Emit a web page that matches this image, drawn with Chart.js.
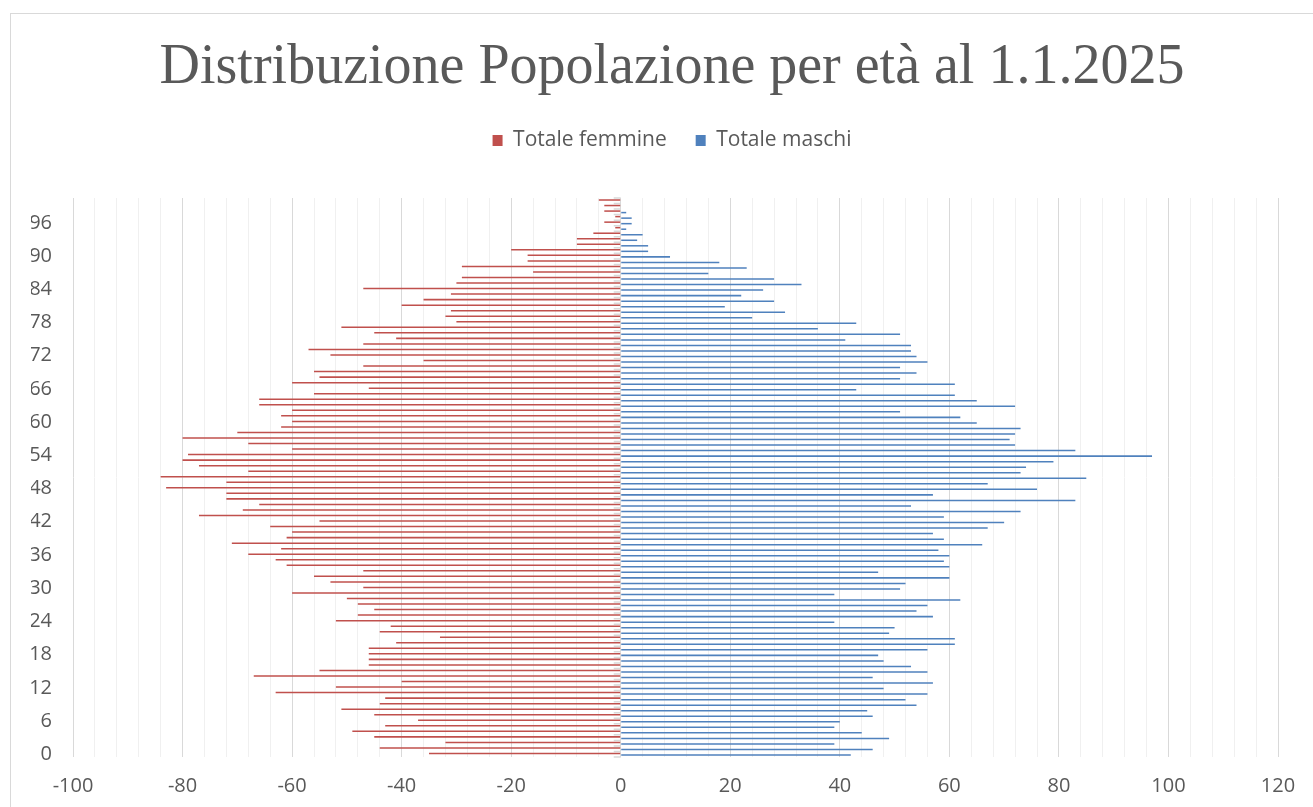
<!DOCTYPE html>
<html lang="it">
<head>
<meta charset="utf-8">
<title>Distribuzione Popolazione per età al 1.1.2025</title>
<script src="https://cdn.jsdelivr.net/npm/chart.js@4.4.1/dist/chart.umd.min.js"></script>
<style>
  html, body { margin: 0; padding: 0; background: #fff; overflow: hidden; }
  #frame {
    position: absolute; left: 10px; top: 13px; width: 1400px; height: 900px;
    border-left: 1px solid #d9d9d9; border-top: 1px solid #d9d9d9;
  }
  #wrap { position: absolute; left: 0; top: 0; width: 1313px; height: 807px; }
</style>
</head>
<body>
<div id="frame"></div>
<div id="wrap"><canvas id="pyramid" width="1313" height="807"></canvas></div>
<script>
// ages 0..100
const ages = Array.from({ length: 101 }, (_, i) => String(i));

// females per age (0 -> 100), drawn on the negative side
const femmine = [
  35, 44, 32, 45, 49, 43, 37, 45, 51, 44,
  43, 63, 52, 40, 67, 55, 46, 46, 46, 46,
  41, 33, 44, 42, 52, 48, 45, 48, 50, 60,
  47, 53, 56, 47, 61, 63, 68, 62, 71, 61,
  60, 64, 55, 77, 69, 66, 72, 72, 83, 72,
  84, 68, 77, 80, 79, 60, 68, 80, 70, 62,
  60, 62, 60, 66, 66, 56, 46, 60, 55, 56,
  47, 36, 53, 57, 47, 41, 45, 51, 30, 32,
  31, 40, 36, 31, 47, 30, 29, 16, 29, 17,
  17, 20, 8, 8, 5, 1, 3, 1, 3, 3,
  4,
];

// males per age (0 -> 100)
const maschi = [
  42, 46, 39, 49, 44, 39, 40, 46, 45, 54,
  52, 56, 48, 57, 46, 56, 53, 48, 47, 56,
  61, 61, 49, 50, 39, 57, 54, 56, 62, 39,
  51, 52, 60, 47, 60, 59, 60, 58, 66, 59,
  57, 67, 70, 59, 73, 53, 83, 57, 76, 67,
  85, 73, 74, 79, 97, 83, 72, 71, 72, 73,
  65, 62, 51, 72, 65, 61, 43, 61, 51, 54,
  51, 56, 54, 53, 53, 41, 51, 36, 43, 24,
  30, 19, 28, 22, 26, 33, 28, 16, 23, 18,
  9, 5, 5, 3, 4, 1, 2, 2, 1, 0,
  0,
];

const xMin = -100;
const xMax = 120;
const labelEvery = 6;

const grey = "#595959";
const tickFont = { family: "'Open Sans', sans-serif", size: 20 };

// small tick marks on the category axis at x = 0
const zeroAxisTicks = {
  id: "zeroAxisTicks",
  beforeDatasetsDraw(chart) {
    const { ctx, scales: { x, y } } = chart;
    const x0 = x.getPixelForValue(0);
    const half = Math.abs(y.getPixelForValue(1) - y.getPixelForValue(0)) / 2;
    ctx.save();
    ctx.strokeStyle = "#d9d9d9";
    ctx.lineWidth = 1.5;
    ctx.beginPath();
    ages.forEach((a, i) => {
      const py = y.getPixelForValue(i) + half;
      ctx.moveTo(x0 - 7, py);
      ctx.lineTo(x0, py);
    });
    const top = y.getPixelForValue(ages.length - 1) - half;
    ctx.moveTo(x0 - 7, top);
    ctx.lineTo(x0, top);
    ctx.stroke();
    ctx.restore();
  },
};

const ctx = document.getElementById("pyramid");

new Chart(ctx, {
  type: "bar",
  data: {
    labels: ages,
    datasets: [
      {
        label: "Totale femmine",
        data: femmine.map((v) => -v),
        backgroundColor: "rgb(192, 80, 77)",
        borderWidth: 0,
        xAxisID: "x",
        yAxisID: "y",
      },
      {
        label: "Totale maschi",
        data: maschi,
        backgroundColor: "rgb(79, 129, 189)",
        borderWidth: 0,
        xAxisID: "x",
        yAxisID: "y",
      },
    ],
  },
  options: {
    indexAxis: "y",
    responsive: false,
    animation: false,
    categoryPercentage: 0.55,
    barPercentage: 1,
    layout: { padding: { left: 31, right: 0, top: 0, bottom: 9 } },
    plugins: {
      tooltip: { enabled: false },
      title: {
        display: true,
        text: "Distribuzione Popolazione per età al 1.1.2025",
        color: grey,
        font: { family: "'Liberation Serif', serif", size: 56, weight: "normal", lineHeight: 1 },
        padding: { top: 40, bottom: 5 },
      },
      legend: {
        display: true,
        position: "top",
        labels: {
          color: grey,
          font: { family: "'Open Sans', sans-serif", size: 21 },
          boxWidth: 10,
          boxHeight: 11,
          padding: 29,
        },
      },
    },
    scales: {
      x: {
        type: "linear",
        position: "bottom",
        min: xMin,
        max: xMax,
        afterFit(scale) {
          scale.paddingRight = 35;
          scale.height = 41;
        },
        ticks: {
          stepSize: 4,
          autoSkip: false,
          maxTicksLimit: 100,
          maxRotation: 0,
          minRotation: 0,
          padding: 17,
          color: grey,
          font: tickFont,
          callback: (value) => (value % 20 === 0 ? value : ""),
        },
        grid: {
          drawTicks: false,
          color: (c) => (c.tick && c.tick.value % 20 === 0 ? "#d9d9d9" : "#f0f0f0"),
          lineWidth: 1,
        },
        border: { display: false },
      },
      gapTop: {
        type: "linear",
        position: "top",
        display: true,
        afterFit(scale) {
          scale.height = 37;
        },
        ticks: { display: false },
        grid: { display: false, drawTicks: false },
        border: { display: false },
      },
      y: {
        type: "category",
        reverse: true,
        afterFit(scale) {
          scale.width = 42;
        },
        ticks: {
          autoSkip: false,
          padding: 21,
          color: grey,
          font: tickFont,
          callback: function (value, index) {
            return index % labelEvery === 0 ? this.getLabelForValue(value) : "";
          },
        },
        grid: { display: false, drawTicks: false },
        border: { display: false },
      },
    },
  },
  plugins: [zeroAxisTicks],
});
</script>
</body>
</html>
